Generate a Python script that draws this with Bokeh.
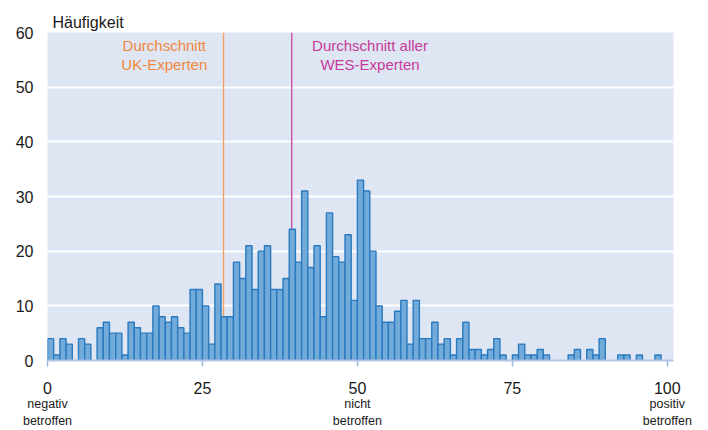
from bokeh.plotting import figure
from bokeh.models import Range1d, FixedTicker, Label, ColumnDataSource, LinearAxis
from bokeh.embed import file_html
from bokeh.resources import INLINE

# ---- data ----
bins = list(range(100))
counts = [4, 1, 4, 3, 0, 4, 3, 0, 6, 7,
          5, 5, 1, 7, 6, 5, 5, 10, 8, 7,
          8, 6, 5, 13, 13, 10, 3, 14, 8, 8,
          18, 15, 21, 13, 20, 21, 13, 13, 15, 24,
          18, 31, 17, 21, 8, 27, 19, 18, 23, 11,
          33, 31, 20, 10, 7, 7, 9, 11, 3, 11,
          4, 4, 7, 3, 4, 1, 4, 7, 2, 2,
          1, 2, 4, 1, 0, 1, 3, 1, 1, 2,
          1, 0, 0, 0, 1, 2, 0, 2, 1, 4,
          0, 0, 1, 1, 0, 1, 0, 0, 1, 0]
mean_uk = 28.4
mean_wes = 39.4
x_ticks = [0, 25, 50, 75, 100]
y_ticks = [0, 10, 20, 30, 40, 50, 60]
y_title = "Häufigkeit"
uk_text = ["Durchschnitt", "UK-Experten"]
wes_text = ["Durchschnitt aller", "WES-Experten"]
sub_ticks = [0, 50, 100]
sub_labels = ["negativ\nbetroffen", "nicht\nbetroffen", "positiv\nbetroffen"]

FONT = "Liberation Sans"
TXT = "#1a1a1a"
ORANGE_T = "#f0883c"
ORANGE_L = "#f0a06a"
MAGENTA_T = "#c63a9b"
MAGENTA_L = "#cc50a8"

left = [b for b, c in zip(bins, counts) if c > 0]
top = [c for c in counts if c > 0]
src = ColumnDataSource(dict(left=left, right=[b + 1 for b in left], top=top, bottom=[0] * len(left)))

p = figure(width=708, height=430, output_backend="svg", toolbar_location=None,
           x_range=Range1d(0, 101), y_range=Range1d(0, 60),
           min_border_left=47, min_border_right=35, min_border_top=32, min_border_bottom=67)
p.background_fill_color = "#dfe6f3"
p.border_fill_color = "white"
p.outline_line_color = None

p.title.text = y_title
p.title.align = "left"
p.title.offset = 5
p.title.standoff = 4
p.title.text_font = FONT
p.title.text_font_size = "16px"
p.title.text_font_style = "normal"
p.title.text_color = TXT

p.xgrid.visible = False
p.ygrid.ticker = FixedTicker(ticks=[t for t in y_ticks if 0 < t < 60])
p.ygrid.grid_line_color = "white"
p.ygrid.grid_line_width = 2

p.yaxis.ticker = FixedTicker(ticks=y_ticks)
p.yaxis.axis_line_color = None
p.yaxis.major_tick_line_color = None
p.yaxis.minor_tick_line_color = None
p.yaxis.major_tick_out = 0
p.yaxis.major_tick_in = 0
p.yaxis.major_label_standoff = 14
p.yaxis.major_label_text_font = FONT
p.yaxis.major_label_text_font_size = "16px"
p.yaxis.major_label_text_color = TXT

xa = p.xaxis[0]
xa.ticker = FixedTicker(ticks=x_ticks)
xa.axis_line_color = "#b3c5e4"
xa.axis_line_width = 2
xa.major_tick_line_color = "#9fb8e0"
xa.major_tick_line_width = 1.5
xa.major_tick_out = 6
xa.major_tick_in = 0
xa.minor_tick_line_color = None
xa.major_label_standoff = 15
xa.major_label_text_font = FONT
xa.major_label_text_font_size = "16px"
xa.major_label_text_color = TXT

sub = LinearAxis(ticker=FixedTicker(ticks=sub_ticks),
                 major_label_overrides={t: s for t, s in zip(sub_ticks, sub_labels)})
sub.axis_line_color = None
sub.major_tick_line_color = None
sub.minor_tick_line_color = None
sub.major_tick_out = 0
sub.major_tick_in = 0
sub.major_label_standoff = 0
sub.major_label_text_font = FONT
sub.major_label_text_font_size = "12.5px"
sub.major_label_text_color = TXT
sub.major_label_text_line_height = 1.22
p.add_layout(sub, "below")

# mean lines (behind bars)
p.segment(x0=[mean_uk], y0=[0], x1=[mean_uk], y1=[60], line_color=ORANGE_L, line_width=1.4)
p.segment(x0=[mean_wes], y0=[0], x1=[mean_wes], y1=[60], line_color=MAGENTA_L, line_width=1.4)

p.quad(left="left", right="right", top="top", bottom="bottom", source=src,
       fill_color="#72aad9", line_color="#2a7abf", line_width=1.4)

# pixel helpers (frame: x0 at px 47, 6.198 px/unit; y0 at px 363, 5.517 px/unit)
def dx(px):
    return (px - 47.0) / 6.198

def dy(py):
    return (363 - py) / 5.517

def add(x, y, text, size, color, align="center"):
    p.add_layout(Label(x=x, y=y, text=text, text_font=FONT, text_font_size=size,
                       text_color=color, text_align=align, text_baseline="alphabetic"))

add(dx(163.8), dy(45), uk_text[0], "15px", ORANGE_T)
add(dx(163.8), dy(64), uk_text[1], "15px", ORANGE_T)
add(dx(369.5), dy(45), wes_text[0], "15px", MAGENTA_T)
add(dx(369.5), dy(64), wes_text[1], "15px", MAGENTA_T)

open("out.html", "w").write(file_html(p, INLINE))
